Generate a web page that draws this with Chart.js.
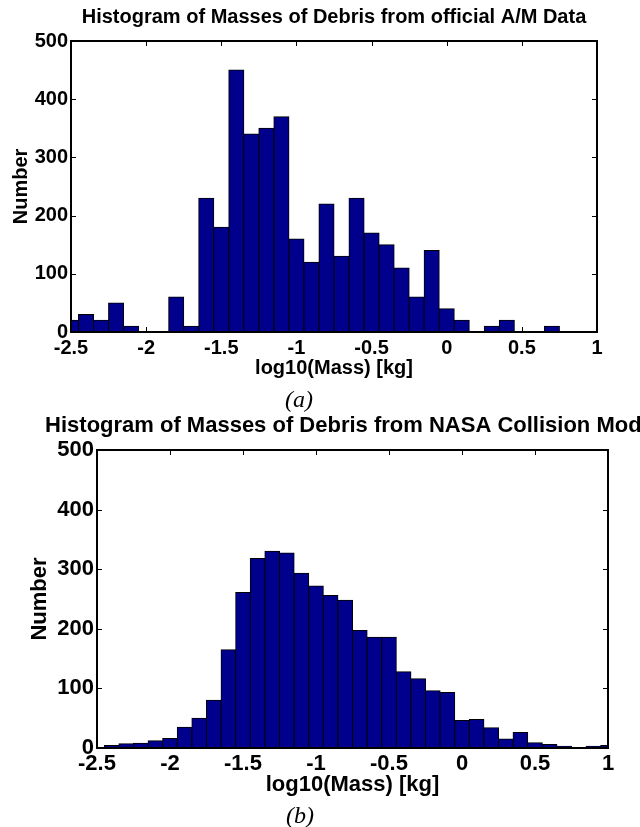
<!DOCTYPE html>
<html>
<head>
<meta charset="utf-8">
<script src="https://cdn.jsdelivr.net/npm/chart.js@4"></script>
<style>
  body { margin: 0; background: #fff; width: 640px; height: 827px; overflow: hidden; position: relative; }
  canvas { position: absolute; left: 0; }
  #chartA { top: 0; }
  #chartB { top: 410px; }
  .caption { position: absolute; font: italic 24px 'Liberation Serif', 'Times New Roman', serif; transform: translate(-50%, -50%); white-space: nowrap; color: #000; }
</style>
</head>
<body>
<canvas id="chartA" width="640" height="390"></canvas>
<div class="caption" style="left:299px; top:399px">(a)</div>
<canvas id="chartB" width="640" height="396"></canvas>
<div class="caption" style="left:300px; top:815px">(b)</div>
<script>
// bin centres of log10(mass), width 0.1
const binCenters = [-2.5, -2.4, -2.3, -2.2, -2.1, -2.0, -1.9, -1.8, -1.7, -1.6,
  -1.5, -1.4, -1.3, -1.2, -1.1, -1.0, -0.9, -0.8, -0.7, -0.6,
  -0.5, -0.4, -0.3, -0.2, -0.1, 0.0, 0.1, 0.2, 0.3, 0.4,
  0.5, 0.6, 0.7, 0.8, 0.9, 1.0];

// (a) official A/M data
const officialCounts = [20, 30, 20, 50, 10, 0, 0, 60, 10, 230,
  180, 450, 340, 350, 370, 160, 120, 220, 130, 230,
  170, 150, 110, 60, 140, 40, 20, 0, 10, 20,
  0, 0, 10, 0, 0, 0];

// (b) NASA collision model
const nasaCounts = [0, 4, 7, 8, 12, 16, 35, 50, 80, 165,
  261, 318, 330, 327, 293, 272, 256, 248, 197, 186,
  186, 128, 116, 96, 93, 46, 48, 34, 15, 26,
  9, 6, 3, 1, 3, 4];

const xTickValues = [-2.5, -2, -1.5, -1, -0.5, 0, 0.5, 1];
const xTickLabels = ['-2.5', '-2', '-1.5', '-1', '-0.5', '0', '0.5', '1'];
const yTickValues = [0, 100, 200, 300, 400, 500];
const yTickLabels = ['0', '100', '200', '300', '400', '500'];

const titleA = 'Histogram of Masses of Debris from official A/M Data';
const titleB = 'Histogram of Masses of Debris from NASA Collision Model';
const xAxisTitle = 'log10(Mass) [kg]';
const yAxisTitle = 'Number';

const barColor = '#00008c';

// matlab style box with inward ticks, plus a title that is allowed to run off the canvas
const boxPlugin = {
    id: 'box',
    beforeDatasetsDraw(chart) {
        const { ctx, chartArea: a, scales: { x, y } } = chart;
        const len = 5;
        ctx.save();
        ctx.strokeStyle = '#000';
        ctx.lineWidth = 1;
        ctx.beginPath();
        xTickValues.forEach(v => {
            const px = Math.round(x.getPixelForValue(v)) + 0.5;
            ctx.moveTo(px, a.top); ctx.lineTo(px, a.top + len);
            ctx.moveTo(px, a.bottom); ctx.lineTo(px, a.bottom - len);
        });
        yTickValues.forEach(v => {
            const py = Math.round(y.getPixelForValue(v)) + 0.5;
            ctx.moveTo(a.left, py); ctx.lineTo(a.left + len, py);
            ctx.moveTo(a.right, py); ctx.lineTo(a.right - len, py);
        });
        ctx.stroke();
        ctx.restore();
    },
    afterDatasetsDraw(chart) {
        const { ctx, chartArea: a } = chart;
        ctx.save();
        ctx.strokeStyle = '#000';
        ctx.lineWidth = 2;
        ctx.strokeRect(Math.round(a.left), Math.round(a.top),
            Math.round(a.right - a.left), Math.round(a.bottom - a.top));
        ctx.restore();
    },
    afterDraw(chart, args, opts) {
        const { ctx, chartArea: a } = chart;
        ctx.save();
        ctx.font = 'bold ' + opts.size + "px 'Liberation Sans', Arial, sans-serif";
        ctx.fillStyle = '#000';
        ctx.textAlign = 'center';
        ctx.textBaseline = 'middle';
        ctx.fillText(opts.text, (a.left + a.right) / 2, opts.y);
        ctx.restore();
    }
};

function makeHist(id, counts, cfg) {
    const font = { family: "'Liberation Sans', Arial, sans-serif", size: cfg.fontSize, weight: 'bold' };
    return new Chart(document.getElementById(id), {
        type: 'bar',
        data: {
            datasets: [{
                data: binCenters.map((c, i) => ({ x: c, y: counts[i] })),
                backgroundColor: barColor,
                borderColor: '#000',
                borderWidth: { top: 1, left: 1, right: 1, bottom: 0 },
                // grow each bar half a pixel so neighbours share a single 1px edge
                inflateAmount: 0.5,
                barPercentage: 1,
                categoryPercentage: 1,
                clip: 0
            }]
        },
        options: {
            responsive: false,
            animation: false,
            devicePixelRatio: 1,
            layout: { padding: { top: cfg.top, right: cfg.right, left: 0, bottom: 0 } },
            plugins: {
                legend: { display: false },
                tooltip: { enabled: false },
                box: { text: cfg.title, size: cfg.titleSize, y: cfg.titleY }
            },
            scales: {
                x: {
                    type: 'linear',
                    min: -2.5,
                    max: 1,
                    offset: false,
                    grid: { display: false, drawTicks: false },
                    border: { display: false },
                    afterBuildTicks: s => { s.ticks = xTickValues.map(v => ({ value: v })); },
                    afterFit: s => { s.height = cfg.xAxisHeight; },
                    ticks: {
                        autoSkip: false, maxRotation: 0, padding: cfg.xTickPad, color: '#000', font,
                        callback: (v, i) => xTickLabels[i]
                    },
                    title: { display: true, text: xAxisTitle, color: '#000', font, padding: { top: 0, bottom: cfg.xTitlePad } }
                },
                y: {
                    min: 0,
                    max: 500,
                    grid: { display: false, drawTicks: false },
                    border: { display: false },
                    afterBuildTicks: s => { s.ticks = yTickValues.map(v => ({ value: v })); },
                    afterFit: s => { s.width = cfg.yAxisWidth; },
                    ticks: {
                        autoSkip: false, padding: 3, color: '#000', font,
                        callback: (v, i) => yTickLabels[i]
                    },
                    title: { display: true, text: yAxisTitle, color: '#000', font, padding: { top: cfg.yTitlePad, bottom: 0 } }
                }
            }
        },
        plugins: [boxPlugin]
    });
}

makeHist('chartA', officialCounts, {
    title: titleA, titleSize: 20, titleY: 17.5, fontSize: 20,
    top: 41, right: 43, yAxisWidth: 71, xAxisHeight: 58,
    xTickPad: 4, xTitlePad: 10, yTitlePad: 9
});

makeHist('chartB', nasaCounts, {
    title: titleB, titleSize: 22, titleY: 15.5, fontSize: 22,
    top: 40, right: 32, yAxisWidth: 97, xAxisHeight: 58,
    xTickPad: 3, xTitlePad: 8, yTitlePad: 27
});
</script>
</body>
</html>
